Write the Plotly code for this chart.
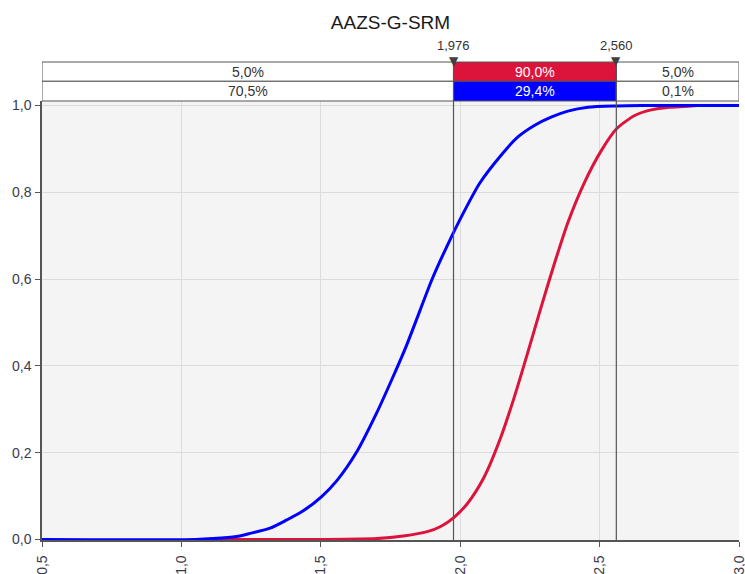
import plotly.graph_objects as go

# ---- data ----
title = "AAZS-G-SRM"

blue_x = [0.5, 1.05, 1.114, 1.198, 1.246, 1.318, 1.378, 1.437, 1.503, 1.557, 1.629, 1.70,
          1.754, 1.808, 1.856, 1.898, 1.952, 2.011, 2.071, 2.146, 2.206, 2.266, 2.326,
          2.386, 2.458, 2.56, 2.65, 3.0]
blue_y = [0.0, 0.0, 0.002, 0.007, 0.014, 0.026, 0.045, 0.066, 0.099, 0.135, 0.202, 0.291,
          0.3675, 0.448, 0.528, 0.598, 0.675, 0.752, 0.822, 0.885, 0.927, 0.954, 0.973,
          0.987, 0.996, 0.999, 1.0, 1.0]

red_x = [1.1, 1.5, 1.7, 1.796, 1.882, 1.93, 1.976, 2.026, 2.086, 2.146, 2.194, 2.242,
         2.29, 2.338, 2.386, 2.446, 2.506, 2.56, 2.626, 2.685, 2.75, 2.806, 2.85]
red_y = [0.0, 0.0, 0.002, 0.008, 0.018, 0.03, 0.05, 0.083, 0.144, 0.236, 0.328, 0.43,
         0.535, 0.636, 0.73, 0.823, 0.896, 0.946, 0.977, 0.99, 0.996, 0.998, 1.0]

x_min, x_max = 0.5, 3.0
markers = [1.976, 2.56]
red_pcts = [5.0, 90.0, 5.0]
blue_pcts = [70.5, 29.4, 0.1]

x_ticks = [0.5, 1.0, 1.5, 2.0, 2.5, 3.0]
y_ticks = [0.0, 0.2, 0.4, 0.6, 0.8, 1.0]

# ---- styles ----
RED = "#dc143c"
BLUE = "#0000ff"
EDGE = "#555555"
FONT = "Liberation Sans"
TXT = "#333333"

fig = go.Figure()
fig.add_trace(go.Scatter(x=red_x, y=red_y, mode="lines",
                         line=dict(color=RED, width=3, shape="spline", smoothing=0.7),
                         hoverinfo="skip"))
fig.add_trace(go.Scatter(x=blue_x, y=blue_y, mode="lines",
                         line=dict(color=BLUE, width=3, shape="spline", smoothing=0.7),
                         hoverinfo="skip"))

def fmt(v, d):
    return f"{v:.{d}f}".replace(".", ",")

# band rows (paper y)
row_top = (1.0449, 1.0888)
row_bot = (1.0, 1.0449)
edges = [x_min] + markers + [x_max]
shapes = []
annotations = []
for i in range(3):
    x0, x1 = edges[i], edges[i + 1]
    mid_fill_r = RED if i == 1 else "white"
    mid_fill_b = BLUE if i == 1 else "white"
    tcol = "white" if i == 1 else TXT
    shapes.append(dict(type="rect", xref="x", yref="paper", x0=x0, x1=x1,
                       y0=row_top[0], y1=row_top[1], fillcolor=mid_fill_r,
                       line=dict(color=EDGE, width=1), layer="above"))
    shapes.append(dict(type="rect", xref="x", yref="paper", x0=x0, x1=x1,
                       y0=row_bot[0], y1=row_bot[1], fillcolor=mid_fill_b,
                       line=dict(color=EDGE, width=1), layer="above"))
    annotations.append(dict(x=(x0 + x1) / 2, xref="x", y=sum(row_top) / 2, yref="paper",
                            yanchor="middle", xanchor="center",
                            text=fmt(red_pcts[i], 1) + "%", showarrow=False,
                            font=dict(family=FONT, size=14, color=tcol)))
    annotations.append(dict(x=(x0 + x1) / 2, xref="x", y=sum(row_bot) / 2, yref="paper",
                            yanchor="middle", xanchor="center",
                            text=fmt(blue_pcts[i], 1) + "%", showarrow=False,
                            font=dict(family=FONT, size=14, color=tcol)))

for m in markers:
    shapes.append(dict(type="line", xref="x", yref="paper", x0=m, x1=m,
                       y0=0, y1=row_top[1], line=dict(color=EDGE, width=1.2),
                       layer="above"))
    annotations.append(dict(x=m, xref="x", y=1.1253, yref="paper", yanchor="middle",
                            xanchor="center", text=fmt(m, 3),
                            showarrow=False, font=dict(family=FONT, size=13, color=TXT)))
    annotations.append(dict(x=m, xref="x", y=row_top[1], yref="paper", yanchor="middle",
                            xanchor="center", text="▼", showarrow=False, yshift=1,
                            font=dict(family="DejaVu Sans", size=12, color="#404040")))

fig.update_layout(
    width=745, height=574,
    margin=dict(l=42, r=6, t=101, b=34),
    paper_bgcolor="white", plot_bgcolor="#f4f4f4",
    showlegend=False,
    separators=", ",
    title=dict(text=title, x=0.5, xref="paper", y=1 - 22 / 574, yanchor="middle",
               font=dict(family=FONT, size=19, color="#1a1a1a")),
    font=dict(family=FONT, size=14, color="#3a3a4a"),
    shapes=shapes, annotations=annotations,
    xaxis=dict(range=[x_min, x_max], tickvals=x_ticks, tickformat=".1f", tickangle=-90,
               showgrid=True, gridcolor="#dcdcdc", gridwidth=1, zeroline=False,
               showline=True, linecolor=EDGE, linewidth=1.5, ticks="outside",
               ticklen=5, tickcolor=EDGE, fixedrange=True, automargin=False,
               ticklabeloverflow="allow", ticklabelstandoff=3),
    yaxis=dict(range=[-0.0012, 1.0104], tickvals=y_ticks, tickformat=".1f",
               showgrid=True, gridcolor="#dcdcdc", gridwidth=1, zeroline=False,
               showline=True, linecolor=EDGE, linewidth=1.5, ticks="outside",
               ticklen=5, tickcolor=EDGE, fixedrange=True, automargin=False,
               ticklabeloverflow="allow", ticklabelstandoff=1),
)

fig.write_html("out.html", config={"displayModeBar": False},
               post_script="document.body.style.margin='0';document.body.style.overflow='hidden';")
